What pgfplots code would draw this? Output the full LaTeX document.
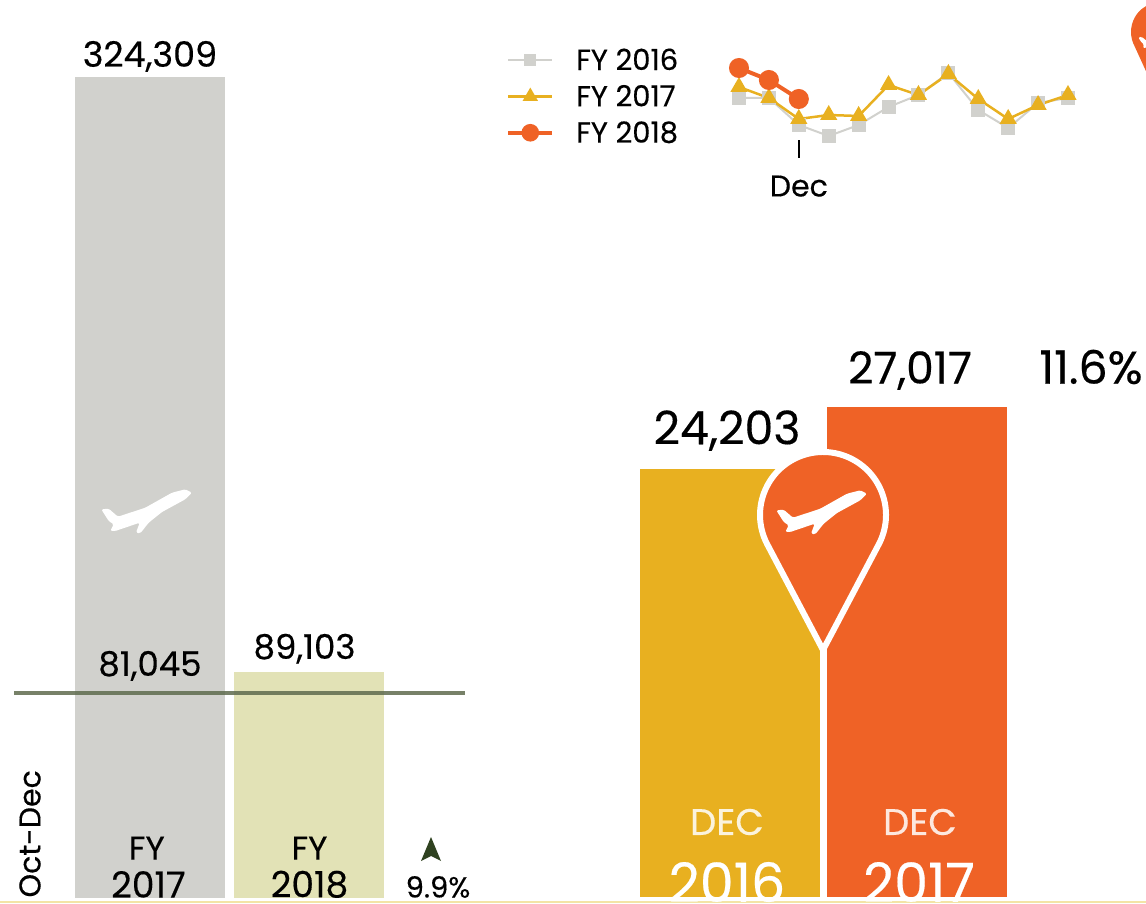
\documentclass[border=0pt]{standalone}
\usepackage{fontspec}
\setmainfont{Poppins}[FakeBold=0.35]
\usepackage{pgfplots}
\pgfplotsset{compat=1.18}
\definecolor{barGrey}{HTML}{D1D1CD}
\definecolor{barOlive}{HTML}{E2E2B6}
\definecolor{barYellow}{HTML}{E8B020}
\definecolor{barOrange}{HTML}{EF6226}
\definecolor{lineOlive}{HTML}{5F6B4E}
\definecolor{arrowGreen}{HTML}{2F4220}
\definecolor{edgeYellow}{HTML}{F3E4A6}
\newcommand\fsz[1]{\fontsize{#1}{#1}\selectfont}
% plane icon, centred on the given point (all units pt = reference pixels)
\newcommand\plane[2]{\fill[white,shift={(#1pt,#2pt)},x=1pt,y=1pt,rounded corners=1.5pt]
  (-45.7,1.7)--(-38.3,2.3)--(-29,-5.7)--(-1.7,3.3)--(25,18.3)--(38.3,21.7)--(45,18.3)
  --(38.3,11.7)--(15,-1)--(1.7,-11.7)--(-6.7,-22.3)--(-11,-21.7)--(-7.3,-11.7)
  --(-31.7,-20)--(-36.7,-20)--(-33.3,-13.3)--(-38.3,-10)--cycle;}
\pgfplotsset{numlabels/.style={nodes near coords, point meta=y,
  nodes near coords style={/pgf/number format/fixed,/pgf/number format/precision=0,
    /pgf/number format/1000 sep={,},/pgf/number format/assume math mode=true}}}
\pgfplotstableread{
mon fyA fyB
0 27158 28707
1 27158 27158
2 23355 24203
3 21806 24763
4 23355 24622
5 25890 28989
6 27580 27580
7 30679 30538
8 25468 27017
9 22932 24203
10 26454 26172
11 27158 27580
}\monthly
\pgfplotstableread{
mon fyC
0 31383
1 29693
2 27017
}\monthlyNew
\begin{document}
\begin{tikzpicture}[x=1pt,y=1pt]
\path[use as bounding box] (0,0) rectangle (1146,903);
\begin{scope}
\clip (0,0) rectangle (1146,903);
\fill[edgeYellow] (0,0) rectangle (1146,2);

% Oct-Dec totals, FY 2017 full year bar and quarter line
\begin{axis}[at={(0pt,5pt)},anchor=south west,scale only axis,width=500pt,height=898pt,
  hide axis,clip=false,xmin=-0.9404,xmax=2.1944,ymin=0,ymax=354721,
  ybar,bar width=150pt,bar shift=0pt]
\addplot[fill=barGrey,draw=none,numlabels,
  nodes near coords style={font=\fsz{35},black,inner sep=5pt}] coordinates {(0,324309)};
\addplot[fill=barOlive,draw=none,numlabels,
  nodes near coords style={font=\fsz{34},black,inner sep=8.5pt,xshift=-5pt}] coordinates {(1,89103)};
\addplot[sharp plot,draw=lineOlive,opacity=0.85,line width=4pt,forget plot,mark=none] coordinates {(-0.852,81045) (1.976,81045)};
\node[font=\fsz{34},black] at (axis cs:0,91700) {81,045};
\node[font=\fsz{33},black] at (axis cs:-0.02,19700) {FY};
\node[font=\fsz{36},black,inner sep=0pt] at (axis cs:-0.01,5400) {2017};
\node[font=\fsz{33},black] at (axis cs:1,19700) {FY};
\node[font=\fsz{36},black,inner sep=0pt] at (axis cs:1,5400) {2018};
\end{axis}
\node[font=\fsz{30},rotate=90,anchor=west] at (30,2) {Oct-Dec};
\fill[arrowGreen] (431,66)--(441,42)--(431,47)--(421,42)--cycle;
\node[font=\fsz{29},inner sep=0pt] at (438,16) {9.9\%};
\plane{147}{392}

% monthly series
\begin{axis}[at={(739pt,763pt)},anchor=south west,scale only axis,width=329pt,height=80pt,
  clip=false,xmin=0,xmax=11,ymin=21242,ymax=32510,
  axis x line=bottom,axis y line=none,axis line style={draw=none},
  xtick={2},xticklabels={Dec},ytick=\empty,
  x tick style={draw=black,line width=1.6pt},tick align=outside,
  major tick length=18pt,
  xticklabel style={font=\fsz{30},text=black,yshift=-14pt},
  legend style={at={(-0.717,0.545)},anchor=west,draw=none,fill=none,
    font=\fsz{29},row sep=9.5pt,/tikz/every odd column/.append style={column sep=20pt}},
  legend cell align=left,
  legend image code/.code={\draw[mark repeat=2,mark phase=2,#1,mark options={scale=0.85}]
    plot coordinates {(0pt,0pt) (22pt,0pt) (44pt,0pt)};}]
\addplot[barGrey,line width=2pt,mark=square*,mark size=6pt,mark options={draw=barGrey,fill=barGrey}] table[x=mon,y=fyA] {\monthly};
\addplot[barYellow,line width=2.5pt,mark=triangle*,mark size=7.5pt,mark options={draw=barYellow,fill=barYellow}] table[x=mon,y=fyB] {\monthly};
\addplot[barOrange,line width=4pt,mark=*,mark size=8pt,mark options={draw=barOrange,fill=barOrange}] table[x=mon,y=fyC] {\monthlyNew};
\legend{FY 2016,FY 2017,FY 2018}
\end{axis}

% December bars
\begin{axis}[at={(0pt,6pt)},anchor=south west,scale only axis,width=1146pt,height=897pt,
  hide axis,clip mode=individual,xmin=0,xmax=1146,ymin=4777,ymax=45494,
  ybar,bar width=180pt,bar shift=0pt]
\addplot[fill=barYellow,draw=none,numlabels,
  nodes near coords style={font=\fsz{46},black,inner sep=18pt,xshift=-3pt}] coordinates {(730,24203)};
\addplot[fill=barOrange,draw=none,numlabels,
  nodes near coords style={font=\fsz{44},black,inner sep=17pt,xshift=-7pt}] coordinates {(917,27017)};
\end{axis}
\node[font=\fsz{46}] at (1091,536) {11.6\%};
\node[font=\fsz{37},white!85!barYellow] at (727,81) {DEC};
\node[font=\fsz{54},white] at (727,21) {2016};
\node[font=\fsz{37},white!85!barOrange] at (920,81) {DEC};
\node[font=\fsz{54},white] at (919,21) {2017};

% map pins
\fill[white] (820,6) rectangle (826,253);
\begin{scope}[shift={(823,388)}]
\draw[fill=barOrange,draw=white,line width=6pt,miter limit=10]
  (0,-135)--(-27.8:63)arc[start angle=-27.8,end angle=207.8,radius=63]--cycle;
\end{scope}
\plane{822}{391}
\begin{scope}[shift={(1161,871)}]
\fill[barOrange] (0,-72)--(-27.8:30)arc[start angle=-27.8,end angle=207.8,radius=30]--cycle;
\begin{scope}[scale=0.5,shift={(0,-12)}]\plane{0}{0}\end{scope}
\end{scope}
\end{scope}
\end{tikzpicture}
\end{document}
